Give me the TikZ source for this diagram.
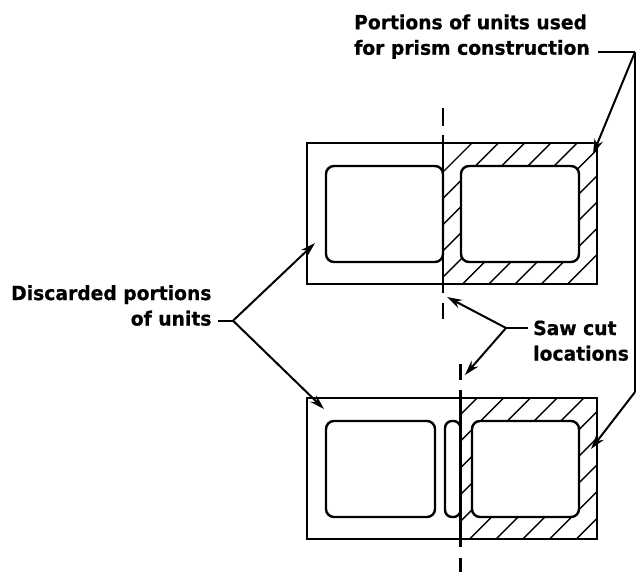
\documentclass[tikz,border=0pt]{standalone}
\usepackage{fontspec}
\usetikzlibrary{arrows.meta}
\newfontfamily\lblfont[FakeStretch=0.96,FakeBold=0.6]{DejaVu Sans Bold}
\tikzset{
  wall/.style={line width=2.4pt,rounded corners=8pt,fill=white},
  outer/.style={line width=2.6pt},
  hatch/.style={line width=1.4pt},
  cut/.style={line width=2.2pt},
  leader/.style={line width=2pt},
  pointer/.style={line width=2pt,-{Stealth[length=15pt,width=9pt]}},
  lbl/.style={font=\lblfont\fontsize{19.5}{25.5}\selectfont,inner sep=0pt,anchor=south west,align=left}
}
\begin{document}
\begin{tikzpicture}[x=1pt,y=-1pt]
\useasboundingbox (0,0) rectangle (636,572);
\fill[white] (0,0) rectangle (636,572);
% top unit hatching
\begin{scope}
\clip (443,143) rectangle (597,284);
\foreach \k in {0,...,9}
  \draw[hatch] ({430},{615+26.3*\k-430}) -- ({610},{615+26.3*\k-610});
\end{scope}
% bottom unit hatching
\begin{scope}
\clip (460.5,398) rectangle (597,539);
\foreach \k in {0,...,9}
  \draw[hatch] ({430},{875+26.7*\k-430}) -- ({610},{875+26.7*\k-610});
\end{scope}
% top unit
\draw[outer] (307,143) rectangle (597,284);
\draw[wall] (326,166) rectangle (443,262);
\draw[wall] (461,166) rectangle (579,262);
% bottom unit
\draw[outer] (307,398) rectangle (597,539);
\draw[wall] (326,421) rectangle (435,517);
\draw[line width=2.4pt,rounded corners=7pt,fill=white] (445,421) rectangle (460.5,517);
\draw[wall] (472,421) rectangle (579,517);
% saw cuts
\draw[cut] (443,108) -- (443,126);
\draw[cut] (443,135) -- (443,293);
\draw[cut] (443,303) -- (443,319);
\draw[cut] (460.5,364) -- (460.5,380);
\draw[cut] (460.5,390) -- (460.5,547);
\draw[cut] (460.5,558) -- (460.5,572);
% labels
\node[lbl] (portions) at (354,59) {Portions of units used\\for prism construction};
\node[lbl,align=right] (discard) at (11,326) {Discarded portions\\of units};
\node[lbl] (saw) at (533,361) {Saw cut\\locations};
% connector points
\coordinate (pj) at (635,52);
\coordinate (pe) at (635,392);
\coordinate (ptipa) at (593,154);
\coordinate (ptipb) at (591,449);
\coordinate (dj) at (233,320.7);
\coordinate (dtipa) at (315,243);
\coordinate (dtipb) at (324,409);
\coordinate (sj) at (506,328);
\coordinate (stipa) at (447,297);
\coordinate (stipb) at (465,375);
\coordinate (pstem) at (598,52);
\coordinate (dstem) at (218,320.7);
\coordinate (sstem) at (528,328);
% connectors
\draw[leader] (pstem) -- (pj);
\draw[pointer] (pj) -- (ptipa);
\draw[leader] (pj) -- (pe);
\draw[pointer] (pe) -- (ptipb);
\draw[leader] (dstem) -- (dj);
\draw[pointer] (dj) -- (dtipa);
\draw[pointer] (dj) -- (dtipb);
\draw[leader] (sstem) -- (sj);
\draw[pointer] (sj) -- (stipa);
\draw[pointer] (sj) -- (stipb);
\end{tikzpicture}
\end{document}
